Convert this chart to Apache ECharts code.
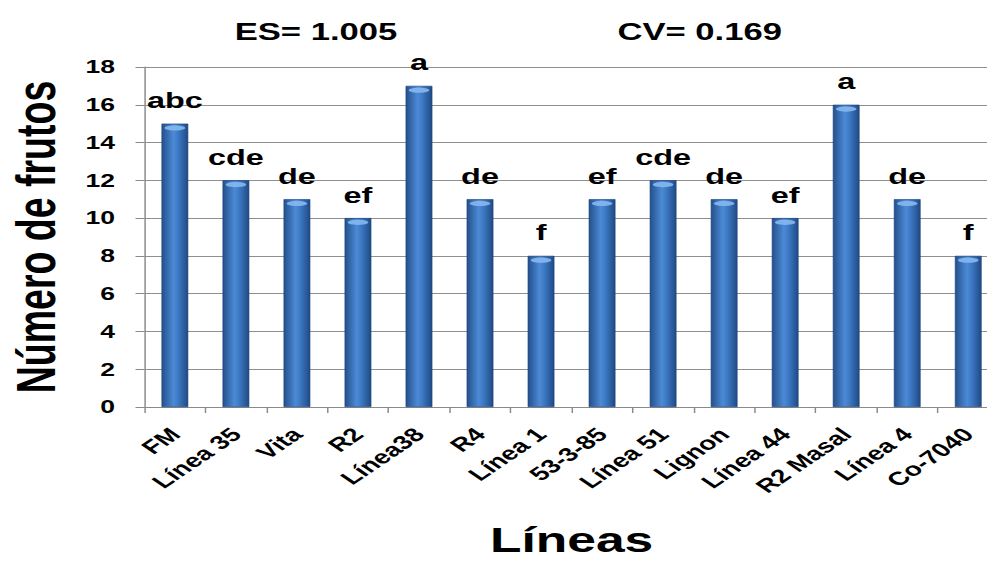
<!DOCTYPE html>
<html>
<head>
<meta charset="utf-8">
<script src="https://cdn.jsdelivr.net/npm/echarts@6/dist/echarts.min.js"></script>
<style>
  html, body { margin: 0; padding: 0; background: #fff; overflow: hidden; }
  #wrap { width: 987px; height: 561px; overflow: hidden; }
  #chart { width: 670px; height: 561px; transform: scaleX(1.4731); transform-origin: 0 0; }
</style>
</head>
<body>
<div id="wrap"><div id="chart"></div></div>
<script>
const categories = ['FM', 'Línea 35', 'Vita', 'R2', 'Línea38', 'R4', 'Línea 1', '53-3-85', 'Línea 51', 'Lignon', 'Línea 44', 'R2 Masal', 'Línea 4', 'Co-7040'];
const values = [15, 12, 11, 10, 17, 11, 8, 11, 12, 11, 10, 16, 11, 8];
const letters = ['abc', 'cde', 'de', 'ef', 'a', 'de', 'f', 'ef', 'cde', 'de', 'ef', 'a', 'de', 'f'];
const statsTexts = ['ES= 1.005', 'CV= 0.169'];
const yName = 'Número de frutos';
const xName = 'Líneas';

const FONT = '"Liberation Sans", Arial, sans-serif';
const chart = echarts.init(document.getElementById('chart'), null, { renderer: 'svg' });

const barGradient = new echarts.graphic.LinearGradient(0, 0, 1, 0, [
  { offset: 0, color: '#24508c' },
  { offset: 0.45, color: '#4c8ad6' },
  { offset: 0.6, color: '#3f7cc8' },
  { offset: 1, color: '#1f4a85' }
]);

chart.setOption({
  animation: false,
  backgroundColor: '#ffffff',
  title: [
    { text: statsTexts[0], left: 209.5, top: 27, textAlign: 'center', textVerticalAlign: 'middle',
      textStyle: { fontFamily: FONT, fontSize: 23.5, fontWeight: 'bold', color: '#000' } },
    { text: statsTexts[1], left: 470, top: 27, textAlign: 'center', textVerticalAlign: 'middle',
      textStyle: { fontFamily: FONT, fontSize: 23.5, fontWeight: 'bold', color: '#000' } }
  ],
  grid: { left: 98, top: 67, width: 580, height: 340, containLabel: false, outerBoundsMode: 'none' },
  xAxis: {
    type: 'category',
    data: categories,
    name: xName,
    nameLocation: 'middle',
    nameGap: 119,
    nameTextStyle: { fontFamily: FONT, fontSize: 35, lineHeight: 28, fontWeight: 'bold', color: '#000' },
    axisLine: { lineStyle: { color: '#8a8a8a', width: 1 } },
    axisTick: { show: true, length: 6, lineStyle: { color: '#8a8a8a' } },
    axisLabel: { interval: 0, rotate: 45, margin: 24, fontFamily: FONT, fontSize: 19, fontWeight: 'bold', color: '#000' }
  },
  yAxis: {
    type: 'value',
    min: 0, max: 18, interval: 2,
    name: yName,
    nameLocation: 'middle',
    nameGap: 58,
    nameTextStyle: { fontFamily: FONT, fontSize: 37.5, lineHeight: 32, fontWeight: 'bold', color: '#000' },
    axisLine: { show: true, lineStyle: { color: '#8a8a8a', width: 1 } },
    axisTick: { show: true, length: 6, lineStyle: { color: '#8a8a8a' } },
    axisLabel: { margin: 20, fontFamily: FONT, fontSize: 18, fontWeight: 'bold', color: '#000' },
    splitLine: { show: true, lineStyle: { color: '#8f8f8f', width: 1 } }
  },
  series: [
    {
      type: 'bar',
      data: values,
      barWidth: '44%',
      barGap: '-100%',
      itemStyle: { color: barGradient, borderColor: '#1c4278', borderWidth: 0.5 },
      label: {
        show: true, position: 'top', distance: 12,
        formatter: p => letters[p.dataIndex],
        fontFamily: FONT, fontSize: 22, fontWeight: 'bold', color: '#000'
      },
      z: 2
    },
    {
      type: 'pictorialBar',
      data: values,
      barWidth: '44%',
      symbol: 'circle',
      symbolSize: [14, 5],
      symbolPosition: 'end',
      symbolOffset: [0, '35%'],
      itemStyle: { color: '#86b8ef', opacity: 0.9 },
      silent: true,
      z: 3
    }
  ]
});
</script>
</body>
</html>
